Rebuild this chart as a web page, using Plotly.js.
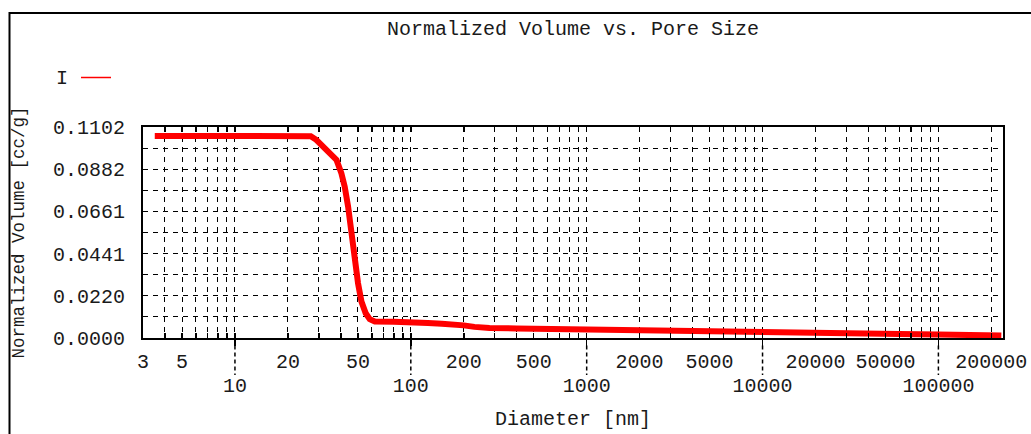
<!DOCTYPE html>
<html><head><meta charset="utf-8">
<script src="https://cdn.plot.ly/plotly-3.0.1.min.js"></script>
<style>html,body{margin:0;padding:0;background:#fff}#chart{width:1031px;height:434px}</style>
</head><body><div id="chart"></div>
<script>
// Data
const diameter = [3.5, 6, 10, 15, 20, 25, 27, 29, 31.7, 34.6, 37.8, 40.3, 42.1, 44.0, 45.9, 48.0, 50.1, 52.4, 55.4, 58.4, 62.4, 80, 110, 125, 150, 180, 200, 230, 280, 400, 600, 700, 1500, 3000, 5000, 7000, 8000, 15000, 25000, 30000, 60000, 100000, 150000, 228000];
const volume   = [0.1055, 0.1055, 0.1055, 0.1055, 0.1055, 0.1055, 0.1054, 0.1035, 0.0999, 0.0965, 0.0930, 0.0860, 0.0790, 0.0686, 0.0547, 0.0407, 0.0286, 0.0190, 0.0129, 0.0098, 0.0086, 0.0085, 0.0084, 0.0078, 0.0075, 0.0072, 0.0066, 0.0058, 0.0052, 0.0050, 0.0048, 0.0045, 0.0043, 0.0041, 0.0040, 0.0039, 0.0033, 0.0031, 0.0029, 0.0025, 0.0021, 0.0018, 0.0016, 0.0013];

const yTickLabels = ["0.0000", "0.0220", "0.0441", "0.0661", "0.0882", "0.1102"];
const xRowOneLabels = [3, 5, 20, 50, 200, 500, 2000, 5000, 20000, 50000, 200000];
const xRowTwoLabels = [10, 100, 1000, 10000, 100000];
const xMin = 3, xMax = 233000, yMax = 0.1102;

// Gridline / tick positions (axis configuration)
const xGrid = [], xGridText = [];
for (let d = 0; d <= 5; d++) {
  for (let m = 1; m <= 9; m++) {
    const v = m * Math.pow(10, d);
    if (v >= xMin && v <= xMax) {
      xGrid.push(v);
      xGridText.push(xRowOneLabels.includes(v) ? String(v) : "");
    }
  }
}
const yGrid = [], yGridText = [];
for (let k = 0; k <= 10; k++) {
  yGrid.push(yMax * k / 10);
  yGridText.push(k % 2 === 0 ? yTickLabels[k / 2] : "");
}

const FONT = "Liberation Mono, Courier New, monospace";
const TXT = "#1a1a1a";
const xr = [Math.log10(xMin), Math.log10(xMax)];

const traces = [
  {x: diameter, y: volume, type: "scatter", mode: "lines", name: "I",
   line: {color: "#ff0000", width: 6}, showlegend: false, hoverinfo: "x+y"},
  {x: [null], y: [null], type: "scatter", mode: "lines", name: "",
   line: {color: "#ff0000", width: 1.5}, showlegend: true, xaxis: "x2"}
];

const shapes = xRowTwoLabels.map(v => ({
  type: "line", xref: "x", yref: "paper", x0: v, x1: v, y0: -0.035, y1: -0.175,
  line: {color: "#000", width: 1.5, dash: "4px,3px"}
}));
shapes.push({type: "rect", xref: "paper", yref: "paper",
  x0: (9.5 - 143) / 860, x1: (1045 - 143) / 860, y0: (338 - 450) / 211, y1: (338 - 13) / 211,
  line: {color: "#000", width: 2}, fillcolor: "rgba(0,0,0,0)", layer: "below"});

const layout = {
  width: 1031, height: 434,
  margin: {l: 143, r: 28, t: 127, b: 96, pad: 0},
  paper_bgcolor: "#fff", plot_bgcolor: "#fff",
  font: {family: FONT, size: 20, color: TXT},
  title: {text: "Normalized Volume vs. Pore Size", font: {family: FONT, size: 20, color: TXT},
          x: 0.5, xref: "paper", xanchor: "center", y: 1 - 28 / 434, yref: "container", yanchor: "middle"},
  showlegend: true,
  legend: {x: (54 - 143) / 860, y: (338 - 77.5) / 211, xanchor: "left", yanchor: "middle",
           orientation: "h", bgcolor: "rgba(0,0,0,0)",
           title: {text: "I", side: "left", font: {family: FONT, size: 20, color: TXT}},
           font: {family: FONT, size: 20, color: TXT}},
  xaxis: {type: "log", range: xr, tickmode: "array", tickvals: xGrid, ticktext: xGridText,
          showgrid: true, gridcolor: "#000", gridwidth: 1, griddash: "5px,5px",
          ticks: "inside", ticklen: 5, tickwidth: 1.5, tickcolor: "#000",
          showline: true, linecolor: "#000", linewidth: 2, mirror: "ticks",
          zeroline: false, ticklabelstandoff: 4,
          tickfont: {family: FONT, size: 20, color: TXT},
          title: {text: "Diameter [nm]", font: {family: FONT, size: 20, color: TXT}, standoff: 38}},
  xaxis2: {type: "log", range: xr, overlaying: "x", anchor: "y", side: "bottom",
           tickmode: "array", tickvals: xRowTwoLabels, ticktext: xRowTwoLabels.map(String),
           showgrid: false, zeroline: false, showline: false,
           ticks: "outside", ticklen: 7, tickwidth: 1.5, tickcolor: "#000",
           ticklabelstandoff: 22, tickfont: {family: FONT, size: 20, color: TXT}},
  yaxis: {range: [0, yMax], tickmode: "array", tickvals: yGrid, ticktext: yGridText,
          showgrid: true, gridcolor: "#000", gridwidth: 1, griddash: "5px,5px",
          ticks: "", showline: true, linecolor: "#000", linewidth: 2, mirror: true,
          zeroline: false, ticklabelstandoff: 12,
          tickfont: {family: FONT, size: 20, color: TXT},
          title: {text: "Normalized Volume [cc/g]", font: {family: FONT, size: 17.5, color: TXT}, standoff: 24}},
  shapes: shapes
};

Plotly.newPlot("chart", traces, layout, {displayModeBar: false, staticPlot: true});
</script>
</body></html>
